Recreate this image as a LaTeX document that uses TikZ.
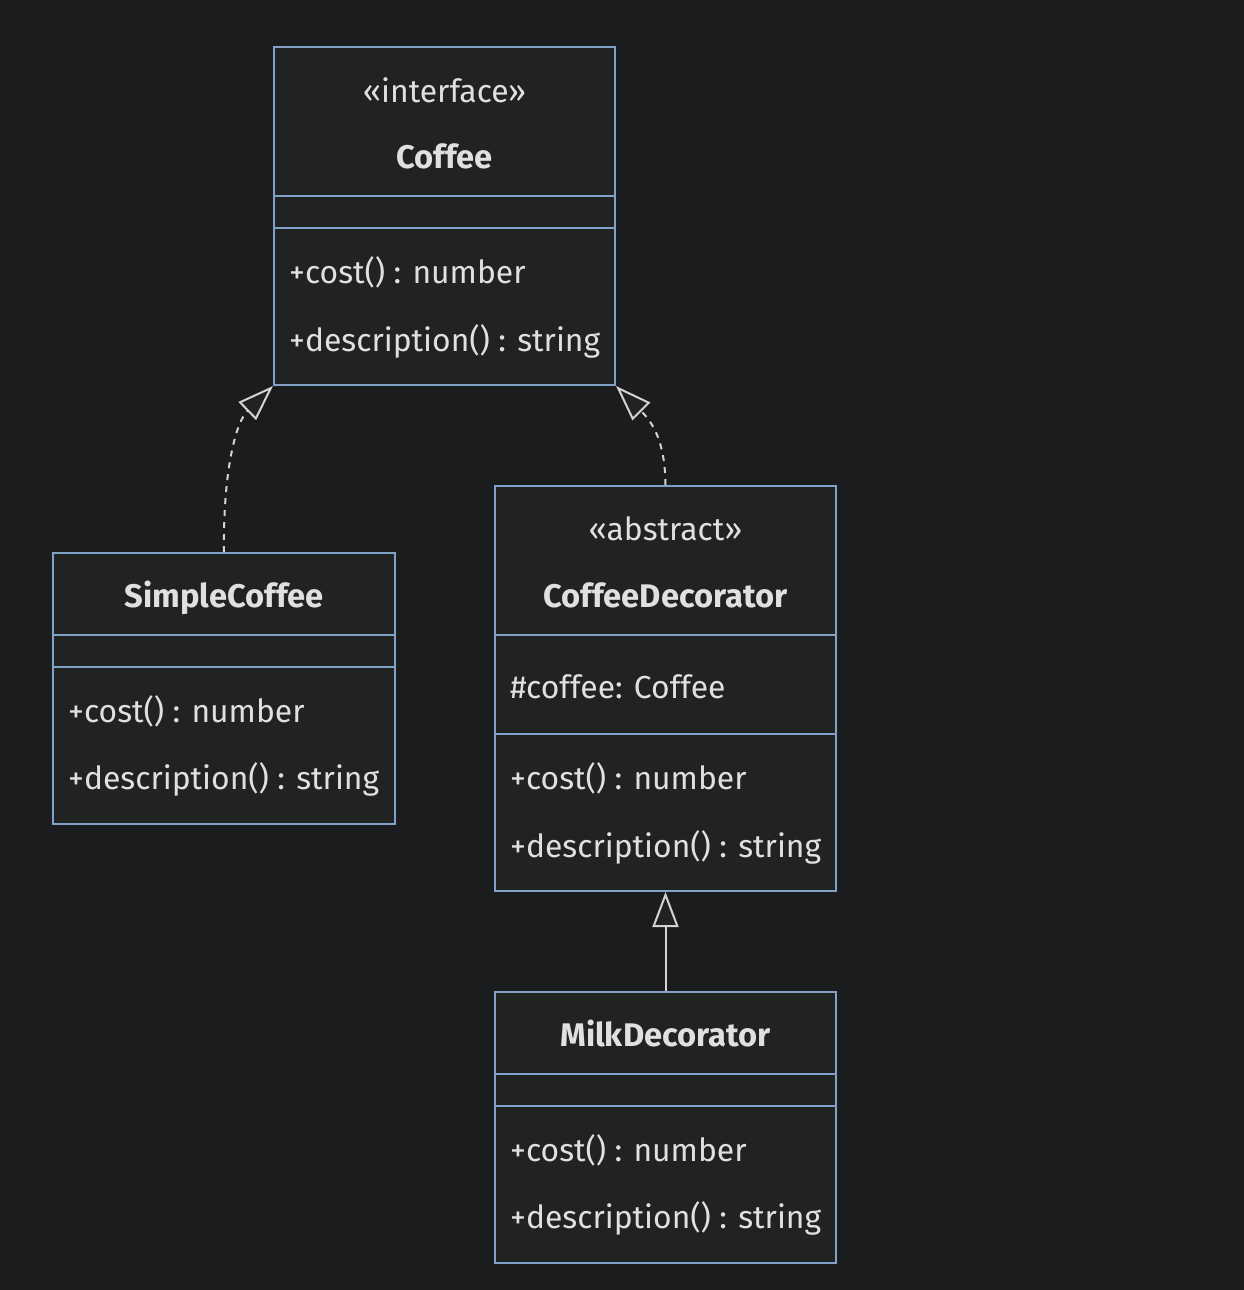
\documentclass[tikz,border=0pt]{standalone}
\usepackage{fontspec}
\setmainfont{Fira Sans}
\usetikzlibrary{arrows.meta}
\definecolor{bg}{HTML}{1B1C1E}
\definecolor{boxfill}{HTML}{212322}
\definecolor{boxline}{HTML}{81A1C9}
\definecolor{txtcol}{HTML}{E0E0E0}
\definecolor{edgecol}{HTML}{D3D3D3}
\newlength\mylenA
\newlength\mylenB
\AtBeginDocument{%
\settowidth\mylenA{\fontsize{10pt}{12pt}\selectfont +description() : string}%
\pgfmathsetmacro\fsA{10*311/\mylenA}%
\settowidth\mylenB{\fontsize{10pt}{12pt}\selectfont\bfseries CoffeeDecorator}%
\pgfmathsetmacro\fsB{10*244/\mylenB}%
}
\begin{document}
\begin{tikzpicture}[x=1pt,y=-1pt]
\tikzset{
  classbox/.style={draw=boxline, fill=boxfill, line width=2pt, rectangle, inner sep=0pt, anchor=north west},
  divider/.style={draw=boxline, line width=2pt},
  member/.style={text=txtcol, inner sep=0pt, anchor=base west, font=\fontsize{\fsA pt}{\fsA pt}\selectfont},
  stereo/.style={text=txtcol, inner sep=0pt, anchor=base, font=\fontsize{\fsA pt}{\fsA pt}\selectfont},
  title/.style={text=txtcol, inner sep=0pt, anchor=base, font=\fontsize{\fsB pt}{\fsB pt}\selectfont\bfseries},
  realize/.style={draw=edgecol, line width=2pt, dash pattern=on 6pt off 6pt, -{Triangle[length=36pt,width=25pt,open,fill=boxfill,line width=2pt]}},
  inherit/.style={draw=edgecol, line width=2pt, -{Triangle[length=35pt,width=26pt,open,fill=boxfill,line width=2pt]}}
}
\useasboundingbox (0,0) rectangle (1244,1290);
\fill[bg] (0,0) rectangle (1244,1290);

% Coffee
\node[classbox, minimum width=341pt, minimum height=338pt] (coffee) at (273,46) {};
\draw[divider] (coffee.west |- 0,196) -- (coffee.east |- 0,196);
\draw[divider] (coffee.west |- 0,228) -- (coffee.east |- 0,228);
\node[stereo] (coffeeS) at (coffee.center |- 0,102) {«interface»};
\node[title] (coffeeT) at (coffee.center |- 0,168) {Coffee};
\node[member] (coffeeM1) at (289,283) {+cost() : number};
\node[member] (coffeeM2) at (289,351) {+description() : string};

% SimpleCoffee
\node[classbox, minimum width=342pt, minimum height=271pt] (simple) at (52,552) {};
\draw[divider] (simple.west |- 0,635) -- (simple.east |- 0,635);
\draw[divider] (simple.west |- 0,667) -- (simple.east |- 0,667);
\node[title] (simpleT) at (simple.center |- 0,607) {SimpleCoffee};
\node[member] (simpleM1) at (68,722) {+cost() : number};
\node[member] (simpleM2) at (68,789) {+description() : string};

% CoffeeDecorator
\node[classbox, minimum width=341pt, minimum height=405pt] (deco) at (494,485) {};
\draw[divider] (deco.west |- 0,635) -- (deco.east |- 0,635);
\draw[divider] (deco.west |- 0,734) -- (deco.east |- 0,734);
\node[stereo] (decoS) at (deco.center |- 0,540) {«abstract»};
\node[title] (decoT) at (deco.center |- 0,607) {CoffeeDecorator};
\node[member] (decoA1) at (510,698) {\#coffee: Coffee};
\node[member] (decoM1) at (510,789) {+cost() : number};
\node[member] (decoM2) at (510,857) {+description() : string};

% MilkDecorator
\node[classbox, minimum width=341pt, minimum height=271pt] (milk) at (494,991) {};
\draw[divider] (milk.west |- 0,1074) -- (milk.east |- 0,1074);
\draw[divider] (milk.west |- 0,1106) -- (milk.east |- 0,1106);
\node[title] (milkT) at (milk.center |- 0,1046) {MilkDecorator};
\node[member] (milkM1) at (510,1161) {+cost() : number};
\node[member] (milkM2) at (510,1228) {+description() : string};

% connectors
\draw[realize] (simple.north) .. controls (223,470) and (236,422) .. (coffee.south west);
\draw[realize] (deco.north) .. controls (665,440) and (652,422) .. (coffee.south east);
\draw[inherit] (milk.north) -- (deco.south);
\end{tikzpicture}
\end{document}
